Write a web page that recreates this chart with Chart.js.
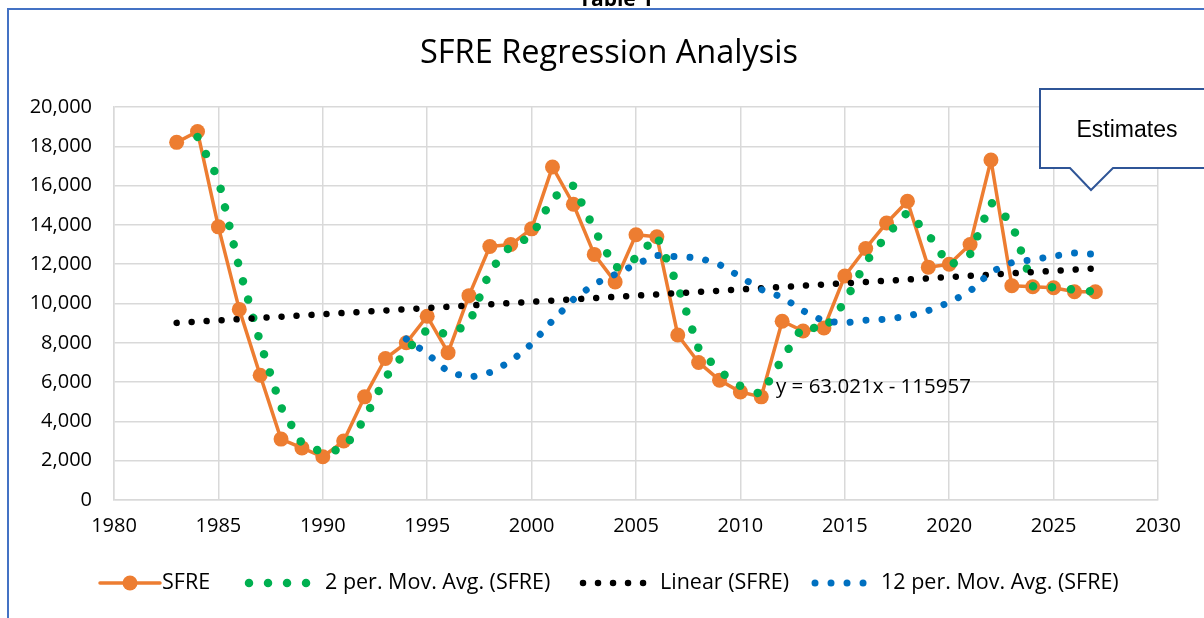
<!DOCTYPE html>
<html>
<head>
<meta charset="utf-8">
<script src="https://cdn.jsdelivr.net/npm/chart.js@4.4.1/dist/chart.umd.min.js"></script>
<style>
  html, body { margin: 0; padding: 0; background: #fff; overflow: hidden; }
  #chart { display: block; }
</style>
</head>
<body>
<canvas id="chart" width="1204" height="618"></canvas>
<script>
// SFRE values
const years = [1983, 1984, 1985, 1986, 1987, 1988, 1989, 1990, 1991, 1992, 1993, 1994, 1995, 1996, 1997,
  1998, 1999, 2000, 2001, 2002, 2003, 2004, 2005, 2006, 2007, 2008, 2009, 2010, 2011, 2012,
  2013, 2014, 2015, 2016, 2017, 2018, 2019, 2020, 2021, 2022, 2023, 2024, 2025, 2026, 2027];
const sfre = [18200, 18750, 13900, 9700, 6350, 3100, 2650, 2200, 3000, 5250, 7200, 8000, 9350, 7500, 10400,
  12900, 13000, 13800, 16950, 15050, 12500, 11100, 13500, 13400, 8400, 7000, 6100, 5500, 5250, 9100,
  8600, 8750, 11400, 12800, 14100, 15200, 11850, 12000, 13000, 17300, 10900, 10850, 10800, 10600, 10600];

// 2 per. moving average, 1984 - 2027
const ma2Years = years.slice(1);
const ma2 = [18475, 16325, 11800, 8025, 4725, 2875, 2425, 2600, 4125, 6225, 7600, 8675, 8425, 8950,
  11650, 12950, 13400, 15375, 16000, 13775, 11800, 12300, 13450, 10900, 7700, 6550, 5800, 5375, 7175,
  8850, 8675, 10075, 12100, 13450, 14650, 13525, 11925, 12500, 15150, 14100, 10875, 10825, 10700, 10600];

// 12 per. moving average, 1994 - 2027
const ma12Years = years.slice(11);
const ma12 = [8190, 7450, 6520, 6230, 6490, 7050, 7940, 9130, 10200, 10990, 11480, 12000, 12450, 12380,
  12330, 11980, 11360, 10710, 10320, 9630, 9100, 9010, 9150, 9200, 9350, 9640, 10050, 10630, 11610,
  12080, 12230, 12410, 12570, 12500];

// linear trend ends (y = 63.021x - 115957)
const trendYears = [1983, 2027];
const trend = [9014, 11787];

const xTicks = [1980, 2030, 5];
const yTicks = [0, 20000, 2000];

const chartTitle = 'SFRE Regression Analysis';
const tableLabel = 'Table 1';
const equation = 'y = 63.021x - 115957';
const calloutText = 'Estimates';

const FONT = '"Open Sans", "DejaVu Sans", sans-serif';

function pts(xs, ys) {
  return xs.map((x, i) => ({ x: x, y: ys[i] }));
}

const series = [
  { label: 'SFRE', data: pts(years, sfre), color: '#ED7D31', width: 3.5, dash: [], radius: 7.5, order: 4 },
  { label: '2 per. Mov. Avg. (SFRE)', data: pts(ma2Years, ma2), color: '#00B050', width: 8.5, dash: [0.01, 19], radius: 0, order: 3 },
  { label: 'Linear (SFRE)', data: pts(trendYears, trend), color: '#000000', width: 6.5, dash: [0.01, 15], radius: 0, order: 2 },
  { label: '12 per. Mov. Avg. (SFRE)', data: pts(ma12Years, ma12), color: '#0070C0', width: 7, dash: [0.01, 16], radius: 0, order: 1 }
];

// legend sample / text start positions
const legendSample = [100, 249, 583, 815];
const legendSampleLen = [60, 64, 66, 64];
const legendText = [162, 325, 660, 881];

const extras = {
  id: 'extras',
  beforeDraw(chart) {
    const ctx = chart.ctx;
    ctx.save();
    ctx.fillStyle = '#fff';
    ctx.fillRect(0, 0, chart.width, chart.height);
    ctx.restore();
  },
  afterDraw(chart) {
    const ctx = chart.ctx;
    ctx.save();

    // frame
    ctx.strokeStyle = '#4472C4';
    ctx.lineWidth = 2;
    ctx.beginPath();
    ctx.moveTo(1204, 9);
    ctx.lineTo(8, 9);
    ctx.lineTo(8, 618);
    ctx.stroke();

    // cut-off "Table 1" above the frame
    ctx.fillStyle = '#000';
    ctx.font = 'bold 21px ' + FONT;
    ctx.textAlign = 'center';
    ctx.textBaseline = 'alphabetic';
    ctx.fillText(tableLabel, 616, 6);

    // title
    ctx.font = '32.5px ' + FONT;
    ctx.textBaseline = 'middle';
    ctx.fillText(chartTitle, 609, 54);

    // trendline equation
    ctx.font = '20.5px ' + FONT;
    ctx.textAlign = 'left';
    ctx.fillText(equation, 776, 387);

    // callout
    ctx.fillStyle = '#fff';
    ctx.strokeStyle = '#2F5597';
    ctx.lineWidth = 2;
    ctx.beginPath();
    ctx.moveTo(1040, 89);
    ctx.lineTo(1210, 89);
    ctx.lineTo(1210, 168);
    ctx.lineTo(1113, 168);
    ctx.lineTo(1091, 190);
    ctx.lineTo(1070, 168);
    ctx.lineTo(1040, 168);
    ctx.closePath();
    ctx.fill();
    ctx.stroke();
    ctx.fillStyle = '#000';
    ctx.font = '23px "Liberation Sans", Arial, sans-serif';
    ctx.textAlign = 'center';
    ctx.fillText(calloutText, 1127, 131);

    // legend
    const ly = 583;
    series.forEach((s, i) => {
      const x0 = legendSample[i];
      ctx.save();
      ctx.strokeStyle = s.color;
      ctx.lineWidth = s.width;
      ctx.lineCap = 'round';
      ctx.setLineDash(s.dash);
      ctx.beginPath();
      ctx.moveTo(x0, ly);
      ctx.lineTo(x0 + legendSampleLen[i], ly);
      ctx.stroke();
      if (s.radius) {
        ctx.setLineDash([]);
        ctx.fillStyle = s.color;
        ctx.beginPath();
        ctx.arc(x0 + legendSampleLen[i] / 2, ly, s.radius, 0, Math.PI * 2);
        ctx.fill();
      }
      ctx.restore();
      ctx.fillStyle = '#000';
      ctx.font = '21.5px ' + FONT;
      ctx.textAlign = 'left';
      ctx.textBaseline = 'middle';
      ctx.fillText(s.label, legendText[i], ly);
    });

    ctx.restore();
  }
};

new Chart(document.getElementById('chart'), {
  type: 'scatter',
  data: {
    datasets: series.map(s => ({
      label: s.label,
      data: s.data,
      showLine: true,
      borderColor: s.color,
      backgroundColor: s.color,
      borderWidth: s.width,
      borderDash: s.dash,
      borderCapStyle: 'round',
      borderJoinStyle: 'round',
      pointRadius: s.radius,
      pointHoverRadius: s.radius,
      pointBorderWidth: 0,
      tension: 0,
      order: s.order
    }))
  },
  options: {
    responsive: false,
    animation: false,
    devicePixelRatio: 1,
    layout: { padding: { left: 10, top: 107, right: 46, bottom: 78 } },
    plugins: {
      legend: { display: false },
      title: { display: false },
      tooltip: { enabled: false }
    },
    scales: {
      x: {
        type: 'linear',
        min: xTicks[0],
        max: xTicks[1],
        afterFit: s => { s.height = 40; },
        grid: { color: '#d9d9d9', lineWidth: 1.5, drawTicks: false },
        border: { color: '#d9d9d9', width: 1.5 },
        ticks: {
          stepSize: xTicks[2],
          padding: 14,
          color: '#000',
          font: { family: FONT, size: 20 },
          callback: v => String(v)
        }
      },
      y: {
        min: yTicks[0],
        max: yTicks[1],
        afterFit: s => { s.width = 104; },
        grid: { color: '#d9d9d9', lineWidth: 1.5, drawTicks: false },
        border: { color: '#d9d9d9', width: 1.5 },
        ticks: {
          stepSize: yTicks[2],
          padding: 22,
          color: '#000',
          font: { family: FONT, size: 20 },
          callback: v => v.toLocaleString('en-US')
        }
      }
    }
  },
  plugins: [extras]
});
</script>
</body>
</html>
